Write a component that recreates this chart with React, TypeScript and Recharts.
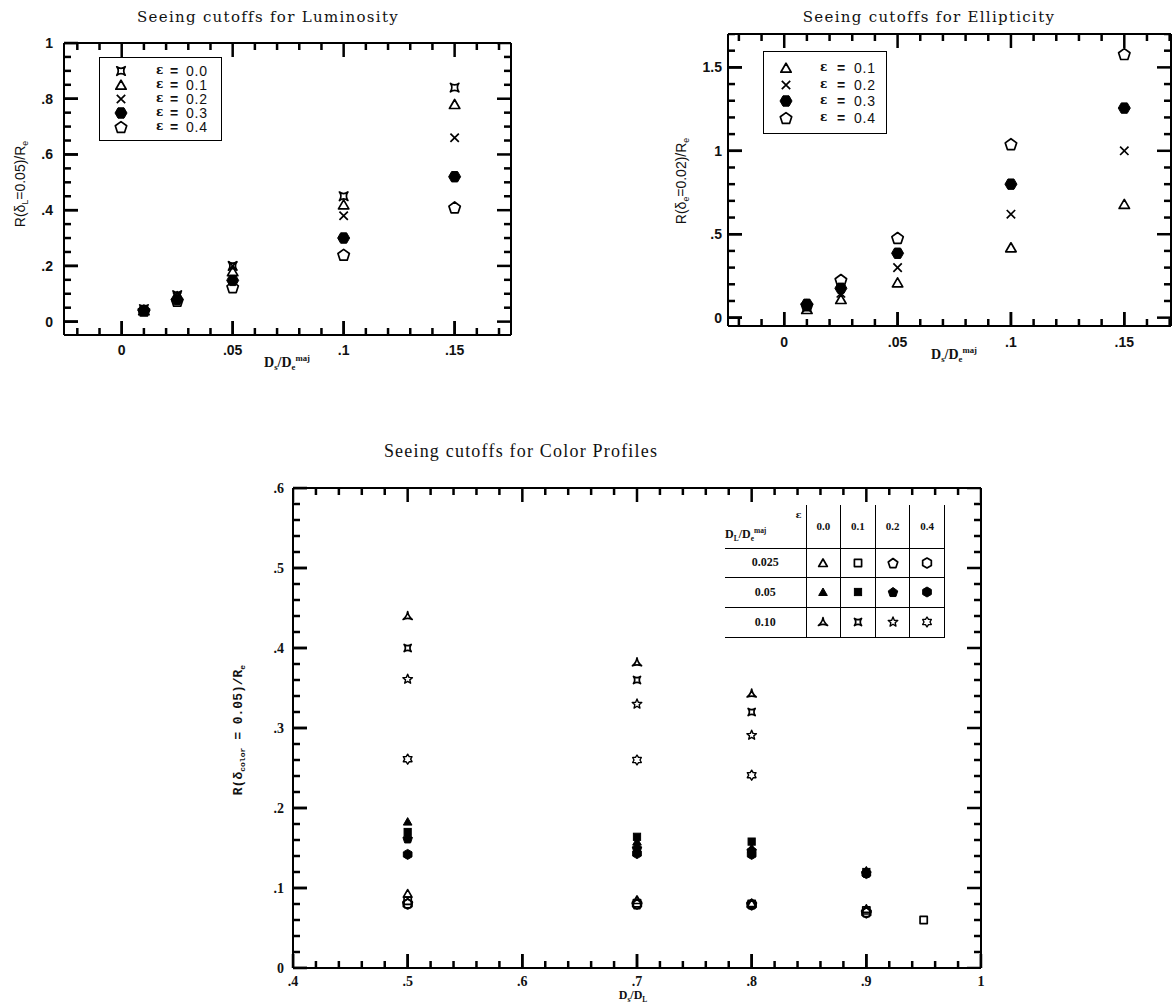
import React from 'react';
import { ScatterChart, Scatter, XAxis, YAxis, Legend } from 'recharts';

// Luminosity panel: x = Ds/De^maj, one series per ellipticity
const lumX = [0.01, 0.025, 0.05, 0.1, 0.15];
const lumE00 = [0.045, 0.095, 0.2, 0.45, 0.84];
const lumE01 = [0.04, 0.09, 0.18, 0.42, 0.78];
const lumE02 = [0.04, 0.09, 0.2, 0.38, 0.66];
const lumE03 = [0.04, 0.08, 0.148, 0.3, 0.52];
const lumE04 = [0.04, 0.075, 0.124, 0.24, 0.41];
const lumEps = ['0.0', '0.1', '0.2', '0.3', '0.4'];
const lumXTicks = [-0.02, -0.01, 0, 0.01, 0.02, 0.03, 0.04, 0.05, 0.06, 0.07, 0.08, 0.09, 0.1, 0.11, 0.12, 0.13, 0.14, 0.15, 0.16, 0.17];
const lumXMajor = [0, 0.05, 0.1, 0.15];
const lumYTicks = [0, 0.05, 0.1, 0.15, 0.2, 0.25, 0.3, 0.35, 0.4, 0.45, 0.5, 0.55, 0.6, 0.65, 0.7, 0.75, 0.8, 0.85, 0.9, 0.95, 1];
const lumYMajor = [0, 0.2, 0.4, 0.6, 0.8, 1];

// Ellipticity panel
const ellX = [0.01, 0.025, 0.05, 0.1, 0.15];
const ellE01 = [0.05, 0.11, 0.21, 0.42, 0.68];
const ellE02 = [0.06, 0.146, 0.3, 0.62, 1.0];
const ellE03 = [0.08, 0.176, 0.386, 0.8, 1.256];
const ellE04 = [0.075, 0.226, 0.478, 1.04, 1.58];
const ellEps = ['0.1', '0.2', '0.3', '0.4'];
const ellXTicks = [-0.02, -0.01, 0, 0.01, 0.02, 0.03, 0.04, 0.05, 0.06, 0.07, 0.08, 0.09, 0.1, 0.11, 0.12, 0.13, 0.14, 0.15, 0.16, 0.17];
const ellXMajor = [0, 0.05, 0.1, 0.15];
const ellYTicks = [0, 0.1, 0.2, 0.3, 0.4, 0.5, 0.6, 0.7, 0.8, 0.9, 1, 1.1, 1.2, 1.3, 1.4, 1.5, 1.6, 1.7];
const ellYMajor = [0, 0.5, 1, 1.5];

// Color profile panel: x = Ds/DL, rows by DL/De^maj, columns by ellipticity
const colX = [0.5, 0.7, 0.8, 0.9, 0.95];
const colOpenE00 = [0.093, 0.085, 0.081, 0.074, null];
const colOpenE01 = [0.084, 0.081, 0.08, 0.072, 0.06];
const colOpenE02 = [0.081, 0.08, 0.08, 0.07, null];
const colOpenE04 = [0.08, 0.08, 0.079, 0.069, null];
const colFillE00 = [0.183, 0.158, 0.15, 0.122, null];
const colFillE01 = [0.17, 0.164, 0.158, 0.12, null];
const colFillE02 = [0.162, 0.15, 0.147, 0.119, null];
const colFillE04 = [0.142, 0.143, 0.142, 0.118, null];
const colStarE00 = [0.44, 0.382, 0.343, null, null];
const colStarE01 = [0.4, 0.36, 0.32, null, null];
const colStarE02 = [0.361, 0.33, 0.291, null, null];
const colStarE04 = [0.261, 0.26, 0.241, null, null];
const colEps = ['0.0', '0.1', '0.2', '0.4'];
const colRatio = ['0.025', '0.05', '0.10'];
const colXTicks = [0.4, 0.42, 0.44, 0.46, 0.48, 0.5, 0.52, 0.54, 0.56, 0.58, 0.6, 0.62, 0.64, 0.66, 0.68, 0.7, 0.72, 0.74, 0.76, 0.78, 0.8, 0.82, 0.84, 0.86, 0.88, 0.9, 0.92, 0.94, 0.96, 0.98, 1];
const colXMajor = [0.4, 0.5, 0.6, 0.7, 0.8, 0.9, 1];
const colYTicks = [0, 0.02, 0.04, 0.06, 0.08, 0.1, 0.12, 0.14, 0.16, 0.18, 0.2, 0.22, 0.24, 0.26, 0.28, 0.3, 0.32, 0.34, 0.36, 0.38, 0.4, 0.42, 0.44, 0.46, 0.48, 0.5, 0.52, 0.54, 0.56, 0.58, 0.6];
const colYMajor = [0, 0.1, 0.2, 0.3, 0.4, 0.5, 0.6];

const pts = (xs: number[], ys: (number | null)[]) =>
  xs.map((x, i) => ({ x, y: ys[i] })).filter((p) => p.y !== null);

type Kind =
  | 'star4' | 'tri' | 'triF' | 'cross' | 'hexF' | 'hexFv' | 'hex' | 'pent' | 'pentF'
  | 'sq' | 'sqF' | 'tri3' | 'star5' | 'star6';

const ngon = (cx: number, cy: number, r: number, n: number, rot: number) =>
  Array.from({ length: n }, (_, i) => {
    const a = ((rot + (i * 360) / n) * Math.PI) / 180;
    return `${cx + r * Math.cos(a)},${cy + r * Math.sin(a)}`;
  }).join(' ');

const starPoly = (cx: number, cy: number, ro: number, ri: number, n: number) =>
  Array.from({ length: 2 * n }, (_, i) => {
    const r = i % 2 ? ri : ro;
    const a = ((-90 + (i * 180) / n) * Math.PI) / 180;
    return `${cx + r * Math.cos(a)},${cy + r * Math.sin(a)}`;
  }).join(' ');

const concave = (cx: number, cy: number, r: number, n: number, rot: number, k: number) => {
  const v = Array.from({ length: n }, (_, i) => {
    const a = ((rot + (i * 360) / n) * Math.PI) / 180;
    return [cx + r * Math.cos(a), cy + r * Math.sin(a)];
  });
  let d = `M${v[0][0]},${v[0][1]}`;
  for (let i = 0; i < n; i++) {
    const b = v[(i + 1) % n];
    const am = ((rot + ((i + 0.5) * 360) / n) * Math.PI) / 180;
    d += ` Q${cx + k * r * Math.cos(am)},${cy + k * r * Math.sin(am)} ${b[0]},${b[1]}`;
  }
  return d + ' Z';
};

function Marker({ kind, cx, cy, s }: { kind: Kind; cx: number; cy: number; s: number }) {
  const line = { stroke: '#000', strokeWidth: 1.7, fill: 'none', strokeLinejoin: 'round' as const };
  const solid = { stroke: '#000', strokeWidth: 1, fill: '#000' };
  switch (kind) {
    case 'tri':
      return <polygon points={ngon(cx, cy + s * 0.2, s, 3, -90)} {...line} />;
    case 'triF':
      return <polygon points={ngon(cx, cy + s * 0.2, s, 3, -90)} {...solid} />;
    case 'sq':
      return <rect x={cx - s * 0.72} y={cy - s * 0.72} width={s * 1.44} height={s * 1.44} {...line} />;
    case 'sqF':
      return <rect x={cx - s * 0.72} y={cy - s * 0.72} width={s * 1.44} height={s * 1.44} {...solid} />;
    case 'pent':
      return <polygon points={ngon(cx, cy + s * 0.1, s, 5, -90)} {...line} />;
    case 'pentF':
      return <polygon points={ngon(cx, cy + s * 0.1, s, 5, -90)} {...solid} />;
    case 'hex':
      return <polygon points={ngon(cx, cy, s, 6, -90)} {...line} />;
    case 'hexF':
      return <polygon points={ngon(cx, cy, s, 6, 0)} {...solid} />;
    case 'hexFv':
      return <polygon points={ngon(cx, cy, s, 6, -90)} {...solid} />;
    case 'cross': {
      const a = s * 0.7;
      return <path d={`M${cx - a},${cy - a}L${cx + a},${cy + a}M${cx + a},${cy - a}L${cx - a},${cy + a}`} {...line} />;
    }
    case 'star4':
      return <path d={concave(cx, cy, s * 1.0, 4, -135, 0.2)} {...line} />;
    case 'tri3':
      return <path d={concave(cx, cy + s * 0.15, s * 1.05, 3, -90, 0.15)} {...line} />;
    case 'star5':
      return <polygon points={starPoly(cx, cy, s, s * 0.45, 5)} {...line} strokeWidth={1.4} />;
    case 'star6':
      return <polygon points={starPoly(cx, cy, s, s * 0.6, 6)} {...line} strokeWidth={1.4} />;
    default:
      return null;
  }
}

const shapeOf = (kind: Kind, s: number) => (p: any) => <Marker kind={kind} cx={p.cx} cy={p.cy} s={s} />;

const fmt = (v: number) => (v === 0 ? '0' : String(v).replace(/^0\./, '.'));

const MAJOR = 14;
const MINOR = 7;
const TW = 2.5; // tick thickness, heavy like the scanned original
type Side = 'bottom' | 'top' | 'left' | 'right';

// inward tick marks as small filled bars; one scatter per frame edge, placed by the chart's scales
const tickShape = (side: Side) => (p: any) => {
  const m = p.payload && p.payload.m !== undefined ? p.payload.m : p.m;
  const L = m ? MAJOR : MINOR;
  const cx = Number(p.cx);
  const cy = Number(p.cy);
  if (side === 'bottom') return <rect x={cx - TW / 2} y={cy - L} width={TW} height={L} fill="#000" />;
  if (side === 'top') return <rect x={cx - TW / 2} y={cy} width={TW} height={L} fill="#000" />;
  if (side === 'left') return <rect x={cx} y={cy - TW / 2} width={L} height={TW} fill="#000" />;
  return <rect x={cx - L} y={cy - TW / 2} width={L} height={TW} fill="#000" />;
};

const labelRenderer = (side: 'bottom' | 'left', off: number, font: React.CSSProperties) => (p: any) => {
  const { x, y, payload } = p;
  if (side === 'bottom') {
    return (
      <text x={x} y={y + MAJOR + off} textAnchor="middle" dominantBaseline="central" style={font}>
        {fmt(payload.value)}
      </text>
    );
  }
  return (
    <text x={x - MAJOR - off} y={y} textAnchor="end" dominantBaseline="central" style={font}>
      {fmt(payload.value)}
    </text>
  );
};

const frameLine = { stroke: '#000', strokeWidth: 2 };
const majorTickLine = { stroke: '#000', strokeWidth: TW };
const axisBase = {
  type: 'number' as const,
  allowDataOverflow: true,
  mirror: true,
  interval: 0 as const,
  tickMargin: 0,
  tickSize: MAJOR,
  tickLine: majorTickLine,
  axisLine: frameLine,
};

type FrameOpts = {
  xDomain: [number, number];
  yDomain: [number, number];
  xTicks: number[];
  xMajor: number[];
  yTicks: number[];
  yMajor: number[];
  xOff: number;
  yOff: number;
  font: React.CSSProperties;
};

function frame(o: FrameOpts) {
  const [x0, x1] = o.xDomain;
  const [y0, y1] = o.yDomain;
  const alongX = (yv: number) => o.xTicks.map((v) => ({ x: v, y: yv, m: o.xMajor.includes(v) }));
  const alongY = (xv: number) => o.yTicks.map((v) => ({ x: xv, y: v, m: o.yMajor.includes(v) }));
  return [
    <XAxis key="xb" {...axisBase} dataKey="x" domain={o.xDomain} ticks={o.xMajor} height={1}
      tick={labelRenderer('bottom', o.xOff, o.font)} />,
    <XAxis key="xt" {...axisBase} xAxisId="t" orientation="top" domain={o.xDomain} ticks={o.xMajor} height={1} tick={false} />,
    <YAxis key="yl" {...axisBase} dataKey="y" domain={o.yDomain} ticks={o.yMajor} width={1}
      tick={labelRenderer('left', o.yOff, o.font)} />,
    <YAxis key="yr" {...axisBase} yAxisId="r" orientation="right" domain={o.yDomain} ticks={o.yMajor} width={1} tick={false} />,
    <Scatter key="tb" name="ticks-b" data={alongX(y0)} shape={tickShape('bottom')} isAnimationActive={false} />,
    <Scatter key="tt" name="ticks-t" data={alongX(y1)} shape={tickShape('top')} isAnimationActive={false} />,
    <Scatter key="tl" name="ticks-l" data={alongY(x0)} shape={tickShape('left')} isAnimationActive={false} />,
    <Scatter key="tr" name="ticks-r" data={alongY(x1)} shape={tickShape('right')} isAnimationActive={false} />,
  ];
}

const sansTick: React.CSSProperties = { fontFamily: '"Liberation Sans", Arial, sans-serif', fontSize: 14, fontWeight: 700, fill: '#111' };
const serifTick: React.CSSProperties = { fontFamily: '"Liberation Serif", serif', fontSize: 14, fontWeight: 700, fill: '#111' };

const sub = (t: string) => (
  <span style={{ fontSize: '0.62em', position: 'relative', top: '0.35em' }}>{t}</span>
);
const sup = (t: string) => (
  <span style={{ fontSize: '0.62em', position: 'relative', top: '-0.7em' }}>{t}</span>
);

function Txt({ x, y, rot, style, children }: { x: number; y: number; rot?: boolean; style?: React.CSSProperties; children: React.ReactNode }) {
  return (
    <div
      style={{
        position: 'absolute',
        left: x,
        top: y,
        transform: `translate(-50%, -50%)${rot ? ' rotate(-90deg)' : ''}`,
        whiteSpace: 'nowrap',
        lineHeight: 1,
        color: '#111',
        ...style,
      }}
    >
      {children}
    </div>
  );
}

const legendFont: React.CSSProperties = { fontFamily: '"Liberation Sans", Arial, sans-serif', fontSize: 14, color: '#111', lineHeight: '12px' };

function EpsLegend({ kinds, labels, w, h, top, step, symX, epsX, eqX, valX }: any) {
  return (
    <div style={{ width: w, height: h, border: '1.5px solid #000', boxSizing: 'border-box', background: '#fff', position: 'relative', ...legendFont }}>
      {labels.map((lab: string, i: number) => {
        const cy = top + i * step;
        return (
          <React.Fragment key={lab}>
            <svg width={20} height={20} style={{ position: 'absolute', left: symX - 10, top: cy - 10 }}>
              <Marker kind={kinds[i]} cx={10} cy={10} s={6} />
            </svg>
            <span style={{ position: 'absolute', left: epsX - 4, top: cy - 7, fontFamily: '"DejaVu Serif", serif', fontSize: 12, fontWeight: 700 }}>ε</span>
            <span style={{ position: 'absolute', left: eqX - 4, top: cy - 6, fontWeight: 700 }}>=</span>
            <span style={{ position: 'absolute', left: valX, top: cy - 6, letterSpacing: 0.8 }}>{lab}</span>
          </React.Fragment>
        );
      })}
    </div>
  );
}

const lumKinds: Kind[] = ['star4', 'tri', 'cross', 'hexF', 'pent'];
const ellKinds: Kind[] = ['tri', 'cross', 'hexF', 'pent'];
const colKinds: Kind[][] = [
  ['tri', 'sq', 'pent', 'hex'],
  ['triF', 'sqF', 'pentF', 'hexFv'],
  ['tri3', 'star4', 'star5', 'star6'],
];

const tableLine = '1.5px solid #000';
const tableFont: React.CSSProperties = { fontFamily: '"Liberation Serif", serif', fontWeight: 700, fontSize: 11, color: '#111' };

function ColorTable() {
  const cell: React.CSSProperties = { width: 34, borderLeft: tableLine, borderRight: tableLine, borderBottom: tableLine, textAlign: 'center', padding: 0 };
  return (
    <table style={{ borderCollapse: 'collapse', ...tableFont }}>
      <tbody>
        <tr style={{ height: 43 }}>
          <td style={{ width: 82, borderBottom: tableLine, padding: 0, position: 'relative' }}>
            <span style={{ position: 'absolute', left: 0, top: 22, fontSize: 12 }}>
              D{sub('L')}/D{sub('e')}{sup('maj')}
            </span>
            <span style={{ position: 'absolute', right: 4, top: 4, fontFamily: '"DejaVu Serif", serif', fontSize: 10 }}>ε</span>
          </td>
          {colEps.map((e) => (
            <td key={e} style={cell}>{e}</td>
          ))}
        </tr>
        {colRatio.map((r, ri) => (
          <tr key={r} style={{ height: ri === 0 ? 29 : 30 }}>
            <td style={{ borderBottom: tableLine, textAlign: 'center', padding: 0, fontSize: 12 }}>{r}</td>
            {colKinds[ri].map((k, ci) => (
              <td key={ci} style={cell}>
                <svg width={20} height={18} style={{ display: 'block', margin: '0 auto' }}>
                  <Marker kind={k} cx={10} cy={9} s={5} />
                </svg>
              </td>
            ))}
          </tr>
        ))}
      </tbody>
    </table>
  );
}

function LumChart() {
  const series = [lumE00, lumE01, lumE02, lumE03, lumE04];
  return (
    <ScatterChart width={540} height={380} margin={{ top: 43, left: 64, right: 29, bottom: 45 }}>
      {frame({
        xDomain: [-0.026, 0.1754], yDomain: [-0.048, 1], xTicks: lumXTicks, xMajor: lumXMajor,
        yTicks: lumYTicks, yMajor: lumYMajor, xOff: 15, yOff: 11, font: sansTick,
      })}
      {series.map((ys, i) => (
        <Scatter key={i} data={pts(lumX, ys)} shape={shapeOf(lumKinds[i], 6)} isAnimationActive={false} />
      ))}
      <Legend layout="vertical" verticalAlign="middle" align="center"
        wrapperStyle={{ left: 99, top: 57, width: 123, height: 84 }}
        content={() => (
          <EpsLegend kinds={lumKinds} labels={lumEps} w={123} h={84} top={13} step={14} symX={21} epsX={60} eqX={74} valX={86} />
        )} />
    </ScatterChart>
  );
}

function EllChart() {
  const series = [ellE01, ellE02, ellE03, ellE04];
  return (
    <ScatterChart width={533} height={380} margin={{ top: 34, left: 88, right: 2, bottom: 54 }}>
      {frame({
        xDomain: [-0.0248, 0.1706], yDomain: [-0.05, 1.7], xTicks: ellXTicks, xMajor: ellXMajor,
        yTicks: ellYTicks, yMajor: ellYMajor, xOff: 16, yOff: 6, font: sansTick,
      })}
      {series.map((ys, i) => (
        <Scatter key={i} data={pts(ellX, ys)} shape={shapeOf(ellKinds[i], 6)} isAnimationActive={false} />
      ))}
      <Legend layout="vertical" verticalAlign="middle" align="center"
        wrapperStyle={{ left: 763 - 640, top: 51, width: 124, height: 83 }}
        content={() => (
          <EpsLegend kinds={ellKinds} labels={ellEps} w={124} h={83} top={16} step={16.5} symX={22} epsX={60} eqX={77} valX={90} />
        )} />
    </ScatterChart>
  );
}

function ColChart() {
  const rows = [
    [colOpenE00, colOpenE01, colOpenE02, colOpenE04],
    [colFillE00, colFillE01, colFillE02, colFillE04],
    [colStarE00, colStarE01, colStarE02, colStarE04],
  ];
  return (
    <ScatterChart width={810} height={623} margin={{ top: 108, left: 93, right: 29, bottom: 35 }}>
      {frame({
        xDomain: [0.4, 1], yDomain: [0, 0.6], xTicks: colXTicks, xMajor: colXMajor,
        yTicks: colYTicks, yMajor: colYMajor, xOff: 13, yOff: 9, font: serifTick,
      })}
      {rows.map((row, ri) =>
        row.map((ys, ci) => (
          <Scatter key={`${ri}-${ci}`} data={pts(colX, ys)} shape={shapeOf(colKinds[ri][ci], 5)} isAnimationActive={false} />
        )),
      )}
      <Legend layout="vertical" verticalAlign="middle" align="center"
        wrapperStyle={{ left: 525, top: 125, width: 220, height: 132 }}
        content={() => <ColorTable />} />
    </ScatterChart>
  );
}

const titleFont: React.CSSProperties = { fontFamily: '"DejaVu Serif", serif', fontSize: 15, letterSpacing: 1.3 };
const axisFont: React.CSSProperties = { fontFamily: '"Liberation Sans", Arial, sans-serif', fontSize: 14 };
const dFont: React.CSSProperties = { fontFamily: '"Liberation Serif", serif', fontSize: 14, fontWeight: 700 };

export default function App() {
  return (
    <div style={{ position: 'absolute', left: 0, top: 0, width: 1173, height: 1003, background: '#fff', overflow: 'hidden' }}>
      <div style={{ position: 'absolute', left: 0, top: 0 }}>
        <LumChart />
      </div>
      <div style={{ position: 'absolute', left: 640, top: 0 }}>
        <EllChart />
      </div>
      <div style={{ position: 'absolute', left: 200, top: 380 }}>
        <ColChart />
      </div>

      <Txt x={268} y={17} style={titleFont}>Seeing cutoffs for Luminosity</Txt>
      <Txt x={929} y={17} style={titleFont}>Seeing cutoffs for Ellipticity</Txt>
      <Txt x={521} y={451} style={{ fontFamily: '"Liberation Serif", serif', fontSize: 18, letterSpacing: 1.2 }}>
        Seeing cutoffs for Color Profiles
      </Txt>

      <Txt x={20} y={184} rot style={axisFont}>R(δ{sub('L')}=0.05)/R{sub('e')}</Txt>
      <Txt x={287} y={363} style={dFont}>D{sub('s')}/D{sub('e')}{sup('maj')}</Txt>

      <Txt x={681} y={181} rot style={axisFont}>R(δ{sub('e')}=0.02)/R{sub('e')}</Txt>
      <Txt x={954} y={355} style={dFont}>D{sub('s')}/D{sub('e')}{sup('maj')}</Txt>

      <Txt x={238} y={730} rot style={{ fontFamily: '"Liberation Mono", monospace', fontSize: 13, fontWeight: 700 }}>
        R(δ{sub('color')} = 0.05)/R{sub('e')}
      </Txt>
      <Txt x={633} y={995} style={{ ...dFont, fontSize: 12 }}>D{sub('s')}/D{sub('L')}</Txt>
    </div>
  );
}
